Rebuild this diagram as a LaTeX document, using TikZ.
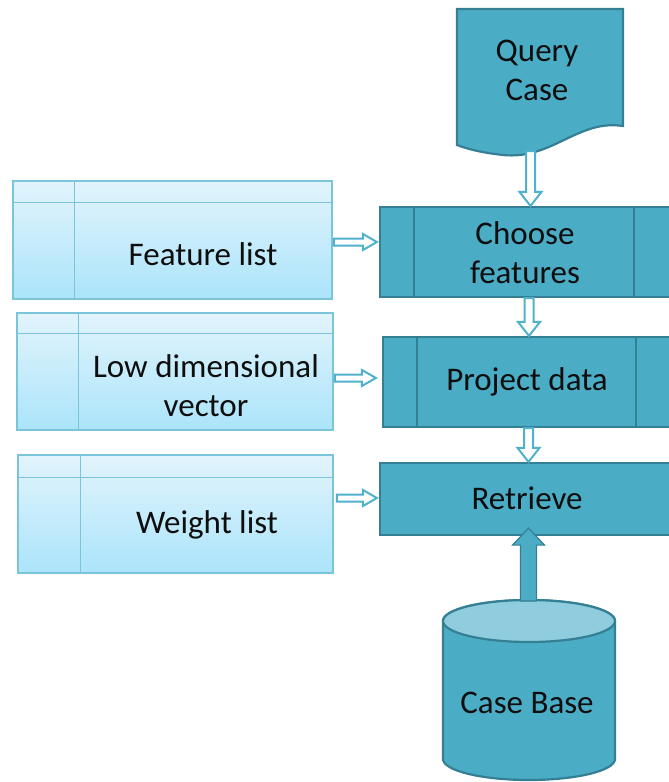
\documentclass[tikz,border=0pt]{standalone}
\usepackage{fontspec}
\setmainfont{Carlito}
\usetikzlibrary{calc}
\definecolor{procfill}{HTML}{4BACC6}
\definecolor{procline}{HTML}{357F94}
\definecolor{toplight}{HTML}{8FCCDE}
\definecolor{listline}{HTML}{7BC5DA}
\definecolor{listtop}{HTML}{E2F4FC}
\definecolor{listbot}{HTML}{ABE4FA}
\definecolor{arrline}{HTML}{4FB2CC}
\definecolor{txt}{HTML}{0E0E0E}
\newcommand\hollowdown[2]{\draw[hollow] let \p1=(#1),\p2=(#2) in
 (\x2-4.5pt,\y1) -- (\x2-4.5pt,\y2+14pt) -- (\x2-11pt,\y2+14pt) -- (\x2,\y2) -- (\x2+11pt,\y2+14pt) -- (\x2+4.5pt,\y2+14pt) -- (\x2+4.5pt,\y1) -- cycle;}
\newcommand\hollowright[2]{\draw[hollow] let \p1=(#1),\p2=(#2) in
 (\x1,\y2+3.5pt) -- (\x2-14pt,\y2+3.5pt) -- (\x2-14pt,\y2+8pt) -- (\x2,\y2) -- (\x2-14pt,\y2-8pt) -- (\x2-14pt,\y2-3.5pt) -- (\x1,\y2-3.5pt) -- cycle;}
\begin{document}
\begin{tikzpicture}[x=1pt,y=-1pt,
  proc/.style={draw=procline,line width=2.2pt,fill=procfill},
  procbox/.style={proc,rectangle,inner sep=0pt},
  listbox/.style={draw=listline,line width=1.5pt,top color=listtop,bottom color=listbot,rectangle,inner sep=0pt},
  divider/.style={draw=procline,line width=2.5pt},
  ldivider/.style={draw=listline,line width=1.5pt},
  label/.style={text=txt,font=\fontsize{33}{39}\selectfont,align=center,inner sep=0pt},
  hollow/.style={draw=arrline,fill=white,line width=2pt,line join=miter},
  solidarrow/.style={draw=procline,fill=procfill,line width=1.2pt}]
\clip (0,0) rectangle (669,782);
\fill[white] (0,0) rectangle (669,782);
% query case document
\draw[proc] (457,9) -- (623,9) -- (623,126) .. controls (578,119) and (552,160) .. (503,155) .. controls (485,153) and (470,150) .. (457,145) -- cycle;
\node[label] (q) at (537,70) {Query\\Case};
\coordinate (qb) at (531,151);
% process boxes
\node[procbox,minimum width=297pt,minimum height=90pt] (cf) at (528.5,252) {};
\draw[divider] ([xshift=35pt]cf.north west) -- ([xshift=35pt]cf.south west);
\draw[divider] ([xshift=255pt]cf.north west) -- ([xshift=255pt]cf.south west);
\node[label] (cft) at (525,253) {Choose\\features};
\node[procbox,minimum width=294pt,minimum height=90pt] (pd) at (530,382) {};
\draw[divider] ([xshift=35pt]pd.north west) -- ([xshift=35pt]pd.south west);
\draw[divider] ([xshift=254pt]pd.north west) -- ([xshift=254pt]pd.south west);
\node[label] (pdt) at (527,382) {Project data};
\node[procbox,minimum width=297pt,minimum height=72pt] (rt) at (528.5,499) {};
\node[label] (rtt) at (527,498) {Retrieve};
% list boxes
\node[listbox,minimum width=319pt,minimum height=118pt] (fl) at (172.5,240) {};
\draw[ldivider] ($(fl.north west)+(0,22)$) -- ($(fl.north east)+(0,22)$);
\draw[ldivider] ($(fl.north west)+(62,0)$) -- ($(fl.south west)+(62,0)$);
\node[label] (flt) at (203,254) {Feature list};
\node[listbox,minimum width=316pt,minimum height=117pt] (lv) at (175,371.5) {};
\draw[ldivider] ($(lv.north west)+(0,21)$) -- ($(lv.north east)+(0,21)$);
\draw[ldivider] ($(lv.north west)+(62,0)$) -- ($(lv.south west)+(62,0)$);
\node[label] (lvt) at (206,386) {Low dimensional\\vector};
\node[listbox,minimum width=315pt,minimum height=118pt] (wl) at (175.5,514) {};
\draw[ldivider] ($(wl.north west)+(0,23)$) -- ($(wl.north east)+(0,23)$);
\draw[ldivider] ($(wl.north west)+(63,0)$) -- ($(wl.south west)+(63,0)$);
\node[label] (wlt) at (207,525) {Weight list};
% case base cylinder
\draw[proc] (443,621) -- (443,759) arc[start angle=180,end angle=360,x radius=86pt,y radius=21pt] -- (615,621) arc[start angle=0,end angle=180,x radius=86pt,y radius=21pt] -- cycle;
\draw[proc,fill=toplight] (529,621) ellipse[x radius=86pt,y radius=21pt];
\coordinate (cb) at (528,601);
\node[label] (cbt) at (527,703) {Case Base};
% hollow arrows
\hollowdown{qb}{[xshift=2pt]cf.north}
\hollowdown{cf.south}{[xshift=-1pt]pd.north}
\hollowdown{pd.south}{rt.north}
\hollowright{[xshift=1pt]fl.east}{[yshift=10pt,xshift=-2pt]cf.west}
\hollowright{[xshift=1pt]lv.east}{[yshift=4pt,xshift=-6pt]pd.west}
\hollowright{[xshift=3pt]wl.east}{[yshift=1pt,xshift=-2pt]rt.west}
% solid arrow from case base
\draw[solidarrow] let \p1=(cb),\p2=([yshift=8pt]rt.south) in
 (\x2-8pt,\y1) -- (\x2-8pt,\y2-17pt) -- (\x2-16pt,\y2-17pt) -- (\x2,\y2) -- (\x2+16pt,\y2-17pt) -- (\x2+8pt,\y2-17pt) -- (\x2+8pt,\y1) -- cycle;
\end{tikzpicture}
\end{document}
